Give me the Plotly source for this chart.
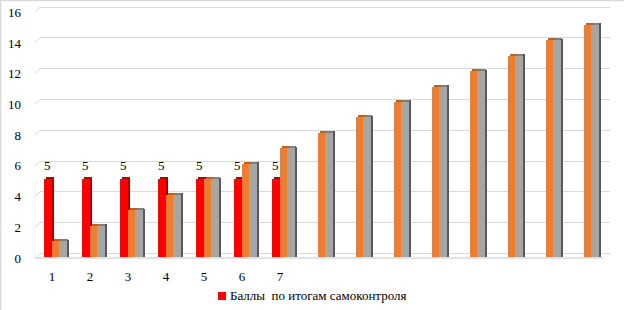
import plotly.graph_objects as go

categories = list(range(1, 16))
tick_labels = ["1", "2", "3", "4", "5", "6", "7"]
red_values = [5, 5, 5, 5, 5, 5, 5]
orange_values = [1, 2, 3, 4, 5, 6, 7, 8, 9, 10, 11, 12, 13, 14, 15]
gray_values = [1, 2, 3, 4, 5, 6, 7, 8, 9, 10, 11, 12, 13, 14, 15]
legend_name = "Баллы\u00a0\u00a0по итогам самоконтроля"
y_ticks = [0, 2, 4, 6, 8, 10, 12, 14, 16]

red_x = categories[:len(red_values)]
FONT = "Liberation Serif"
TOP_H = 0.13   # thickness of 3D top faces (data units)
RED = "#FF0000"

fig = go.Figure()

def bar(x, y, color, offset, width, base=None, name=None):
    fig.add_trace(go.Bar(
        x=x, y=y, base=base, offset=offset, width=width,
        marker=dict(color=color, line=dict(width=0)),
        name=name or "", showlegend=False, hoverinfo="skip",
    ))

# red series: side, top, front
bar(red_x, [v + 0.1 for v in red_values], "#A00000", 0.0, 0.065)
bar(red_x, [TOP_H] * len(red_values), "#B00000", -0.17, 0.21, base=red_values)
bar(red_x, red_values, RED, -0.21, 0.21, name=legend_name)
# orange/gray tops and side
bar(categories, [TOP_H] * len(orange_values), "#B5651D", 0.04, 0.19, base=orange_values)
bar(categories, [TOP_H] * len(gray_values), "#7F7F7F", 0.23, 0.2, base=gray_values)
bar(categories, [v + 0.1 for v in gray_values], "#595959", 0.39, 0.065)
# fronts
bar(categories, orange_values, "#ED7D31", 0.0, 0.19)
bar(categories, gray_values, "#A5A5A5", 0.19, 0.2)

# dummy traces so overlay axes are drawn
fig.add_trace(go.Scatter(x=[None], y=[None], yaxis="y2", showlegend=False, hoverinfo="skip"))
fig.add_trace(go.Scatter(x=[None], y=[None], yaxis="y3", showlegend=False, hoverinfo="skip"))

PLOT_W = 570
PLOT_H = 259

annotations = []
for xi, v in zip(red_x, red_values):
    annotations.append(dict(
        x=xi - 0.13, y=v, xref="x", yref="y", text=str(v), showarrow=False,
        yshift=14, font=dict(family=FONT, size=13, color="#000000"),
    ))
# legend (text part)
annotations.append(dict(
    x=188 / PLOT_W, y=-33 / PLOT_H, xref="paper", yref="paper",
    xanchor="left", yanchor="middle", text=legend_name, showarrow=False,
    font=dict(family=FONT, size=13, color="#000000"),
))

shapes = []
for v in y_ticks:
    shapes.append(dict(type="line", xref="paper", yref="y2",
                       x0=-5 / PLOT_W, x1=0, y0=v - 0.3, y1=v,
                       line=dict(color="#D9D9D9", width=1)))
# front floor line
shapes.append(dict(type="line", xref="paper", yref="y3",
                   x0=-5 / PLOT_W, x1=563 / PLOT_W, y0=0, y1=0,
                   line=dict(color="#D9D9D9", width=1.5), layer="below"))
# outer chart border (left and top edges)
shapes.append(dict(type="line", xref="paper", yref="paper",
                   x0=-39.5 / PLOT_W, x1=-39.5 / PLOT_W, y0=-48 / PLOT_H, y1=1 + 3 / PLOT_H,
                   line=dict(color="#D9D9D9", width=1.5)))
shapes.append(dict(type="line", xref="paper", yref="paper",
                   x0=-40 / PLOT_W, x1=1 + 14 / PLOT_W, y0=1 + 2.5 / PLOT_H, y1=1 + 2.5 / PLOT_H,
                   line=dict(color="#D9D9D9", width=1.5)))
# legend symbol
shapes.append(dict(type="rect", xref="paper", yref="paper",
                   x0=178 / PLOT_W, x1=186 / PLOT_W, y0=-38 / PLOT_H, y1=-30 / PLOT_H,
                   fillcolor=RED, line=dict(width=0)))

fig.update_layout(
    width=624, height=310,
    margin=dict(l=40, r=14, t=3, b=48, autoexpand=False),
    paper_bgcolor="white", plot_bgcolor="white",
    barmode="overlay", bargap=0,
    showlegend=False,
    xaxis=dict(range=[0.684, 15.684], tickvals=red_x, ticktext=tick_labels,
               showgrid=False, zeroline=False, showline=False, ticks="",
               tickfont=dict(family=FONT, size=13, color="#000000"),
               ticklabelstandoff=5),
    yaxis=dict(range=[-0.343, 16.40], showgrid=False, zeroline=False,
               showticklabels=False, ticks="", showline=False),
    yaxis2=dict(range=[-0.552, 16.27], overlaying="y", tickvals=y_ticks,
                showgrid=True, gridcolor="#D9D9D9", gridwidth=1,
                zeroline=False, showticklabels=False, ticks="", showline=False,
                layer="below traces"),
    yaxis3=dict(range=[-0.26, 16.61], overlaying="y", tickvals=y_ticks,
                showgrid=False, zeroline=False,
                showticklabels=True, ticks="", showline=False,
                tickfont=dict(family=FONT, size=13, color="#000000"),
                ticklabelstandoff=18),
    annotations=annotations,
    shapes=shapes,
)

fig.write_html("out.html", config={"displayModeBar": False},
               post_script="document.body.style.margin='0';")
